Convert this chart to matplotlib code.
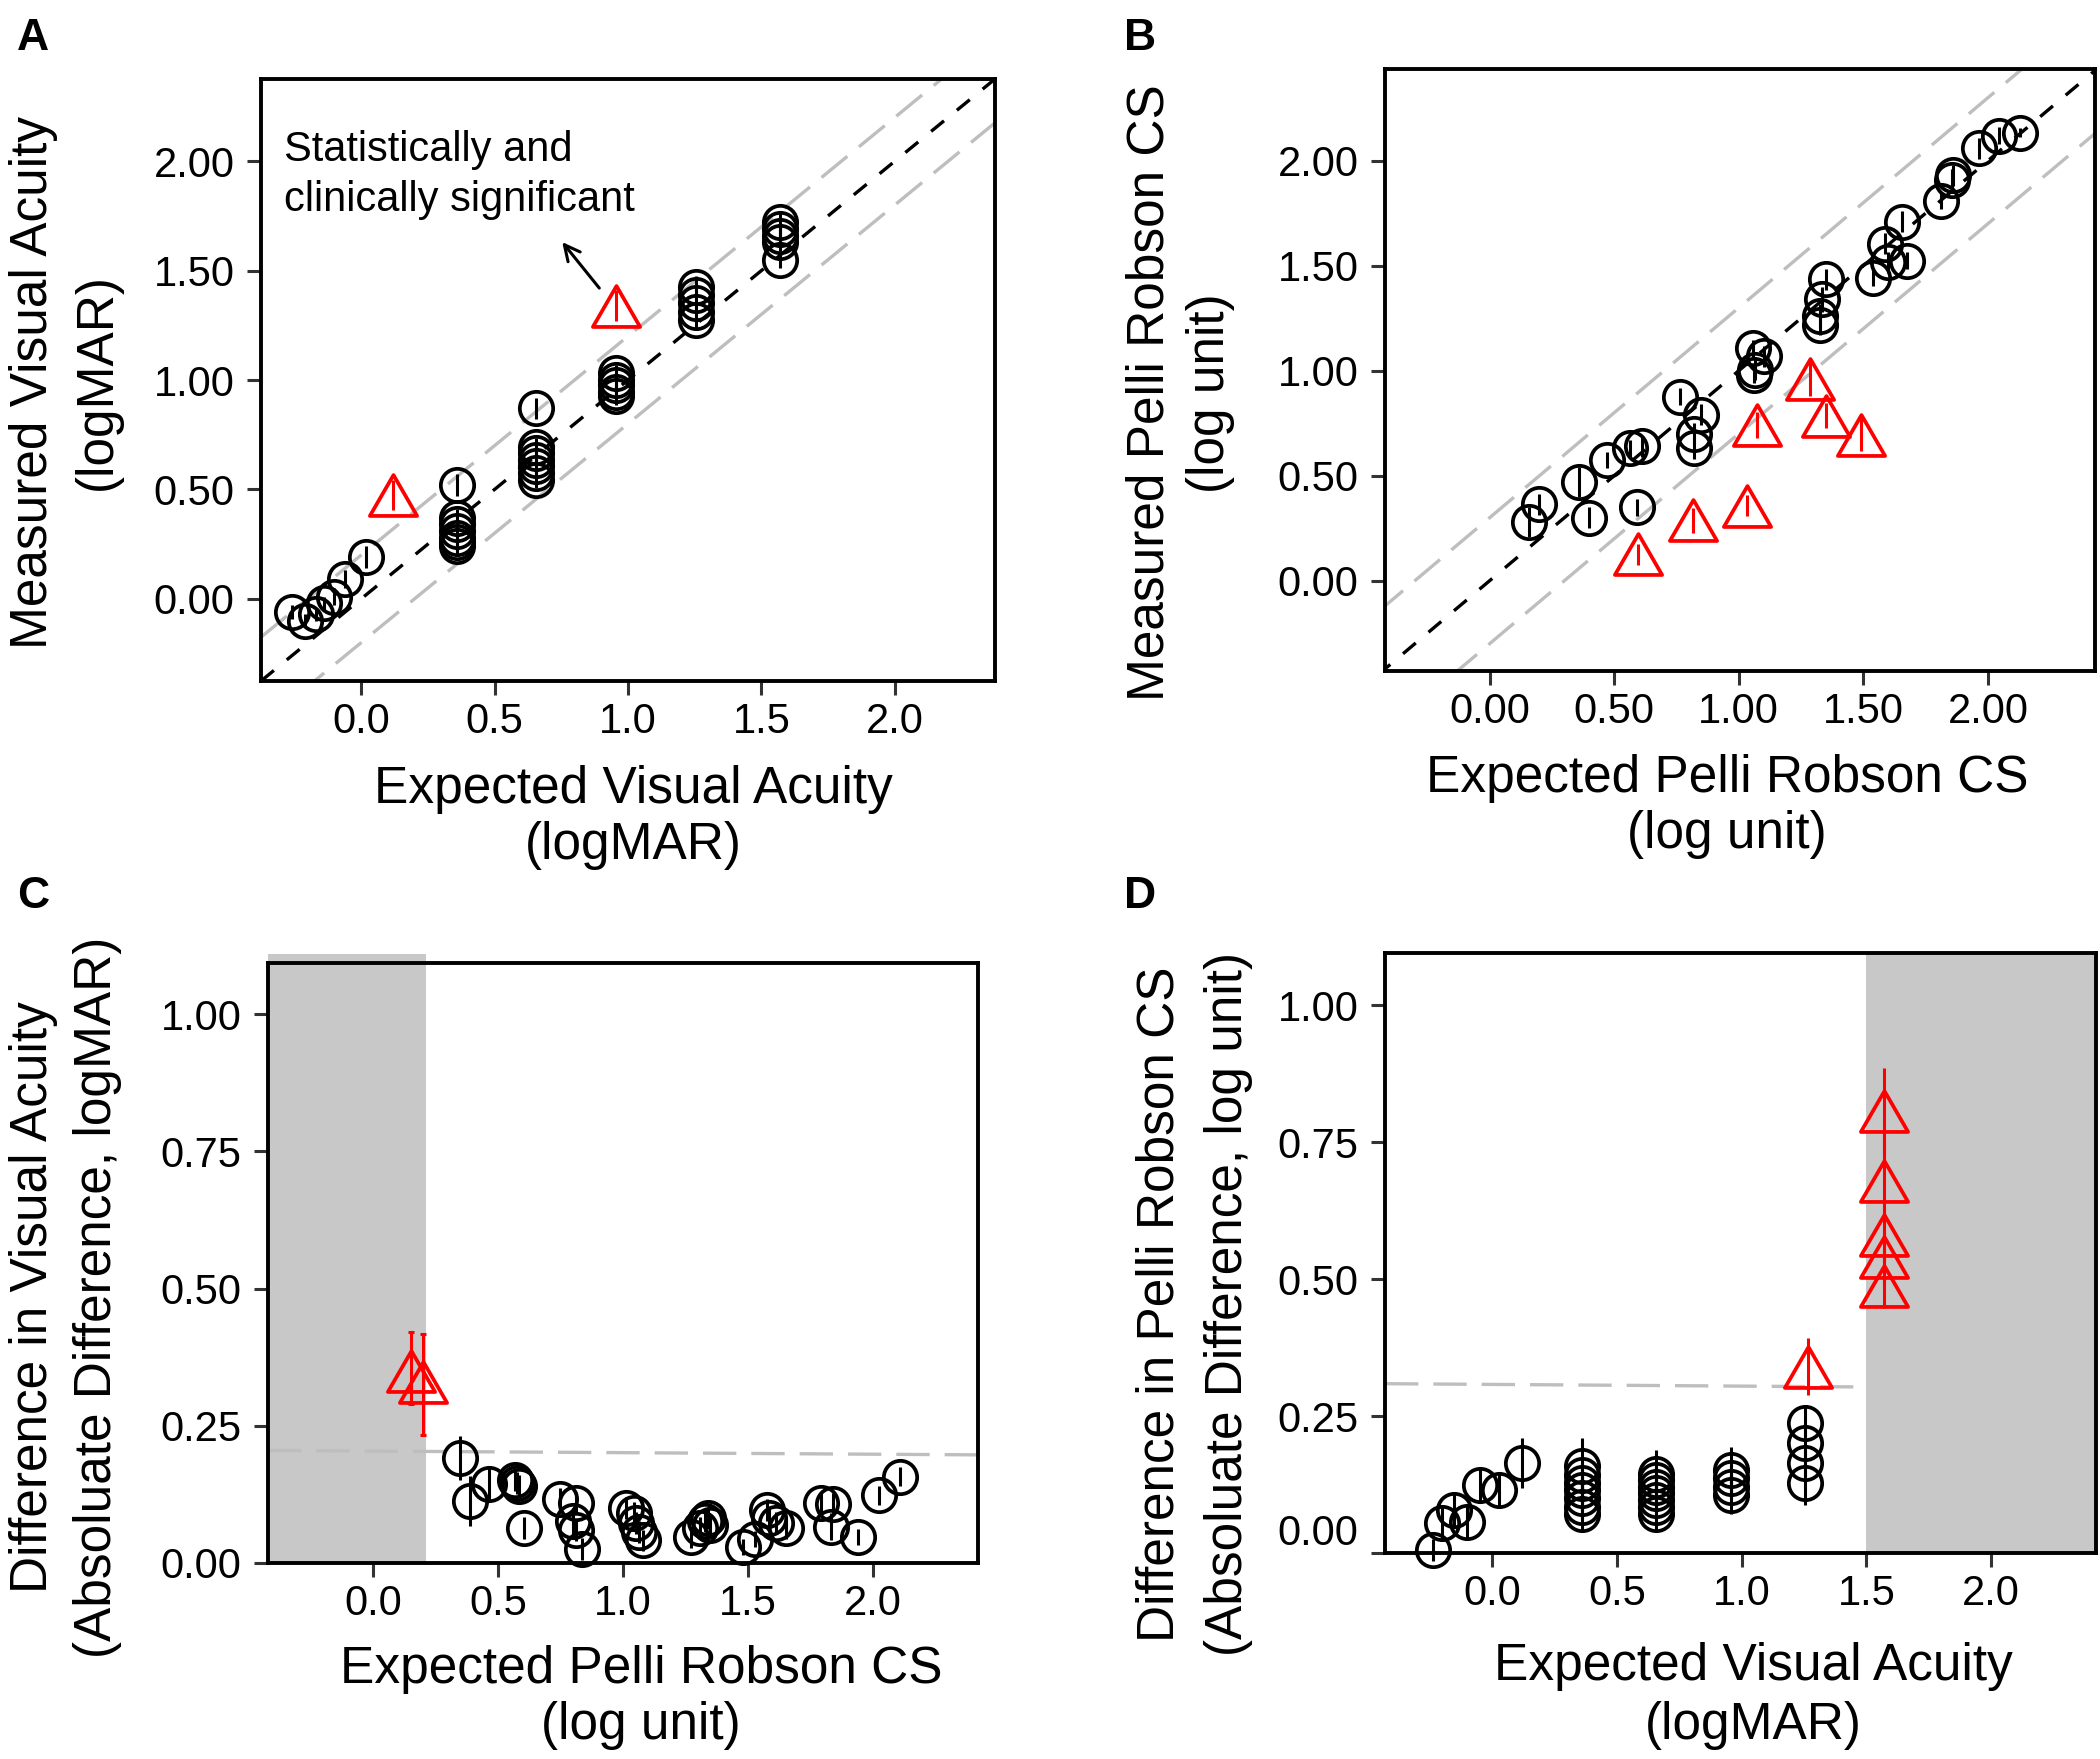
import numpy as np
import matplotlib.pyplot as plt
from matplotlib.path import Path
from matplotlib.patches import Rectangle

plt.rcParams['font.family'] = ['Liberation Sans', 'DejaVu Sans']

# ---------------- data ----------------
# A: expected vs measured visual acuity (logMAR)
a_circ_x = [-0.26, -0.21, -0.17, -0.14, -0.10, -0.06, 0.02,
            0.36, 0.36, 0.36, 0.36, 0.36, 0.36, 0.36,
            0.655, 0.655, 0.655, 0.655, 0.655, 0.655, 0.655,
            0.955, 0.955, 0.955, 0.955, 0.955,
            1.255, 1.255, 1.255, 1.255, 1.255,
            1.57, 1.57, 1.57, 1.57, 1.57]
a_circ_y = [-0.06, -0.10, -0.07, -0.02, 0.01, 0.09, 0.19,
            0.52, 0.37, 0.34, 0.31, 0.28, 0.26, 0.24,
            0.87, 0.695, 0.665, 0.635, 0.605, 0.575, 0.545,
            1.03, 1.00, 0.975, 0.945, 0.925,
            1.425, 1.39, 1.35, 1.31, 1.275,
            1.72, 1.69, 1.66, 1.63, 1.55]
a_circ_err = [0.03, 0.03, 0.03, 0.03, 0.04, 0.04, 0.05,
              0.05, 0.04, 0.04, 0.04, 0.04, 0.04, 0.04,
              0.05, 0.04, 0.04, 0.04, 0.04, 0.04, 0.04,
              0.04, 0.04, 0.04, 0.04, 0.04,
              0.05, 0.04, 0.04, 0.04, 0.04,
              0.05, 0.04, 0.04, 0.04, 0.04]
a_tri_x = [0.12, 0.955]
a_tri_y = [0.475, 1.34]
a_tri_err = [0.07, 0.07]

# B: expected vs measured Pelli Robson CS (log unit)
b_circ_x = [0.16, 0.20, 0.36, 0.40, 0.47, 0.565, 0.61, 0.59, 0.765, 0.85,
            0.82, 0.82, 1.057, 1.10, 1.067, 1.06, 1.35, 1.335, 1.325, 1.325,
            1.54, 1.60, 1.586, 1.675, 1.655, 1.81, 1.857, 1.86, 1.965, 2.045,
            2.127]
b_circ_y = [0.28, 0.365, 0.47, 0.30, 0.575, 0.63, 0.64, 0.35, 0.876, 0.79,
            0.70, 0.63, 1.107, 1.07, 1.005, 0.98, 1.435, 1.34, 1.26, 1.22,
            1.443, 1.516, 1.605, 1.524, 1.71, 1.81, 1.91, 1.93, 2.06, 2.12,
            2.134]
b_circ_err = [0.07, 0.05, 0.07, 0.05, 0.04, 0.04, 0.05, 0.04, 0.04, 0.05,
              0.05, 0.05, 0.04, 0.05, 0.05, 0.04, 0.05, 0.06, 0.06, 0.05,
              0.04, 0.05, 0.05, 0.04, 0.05, 0.04, 0.05, 0.05, 0.05, 0.04,
              0.02]
b_tri_x = [0.595, 0.816, 1.032, 1.073, 1.284, 1.349, 1.492]
b_tri_y = [0.126, 0.288, 0.357, 0.742, 0.96, 0.785, 0.696]
b_tri_err = [0.05, 0.06, 0.05, 0.06, 0.08, 0.06, 0.08]

# C: expected Pelli Robson CS vs difference in visual acuity
c_circ_x = [0.347, 0.388, 0.465, 0.568, 0.575, 0.585, 0.602, 0.747, 0.81, 0.80,
            0.81, 0.834, 1.01, 1.044, 1.05, 1.065, 1.078, 1.272, 1.306, 1.327,
            1.34, 1.347, 1.479, 1.527, 1.575, 1.582, 1.61, 1.65, 1.79, 1.838,
            1.83, 1.94, 2.024, 2.107]
c_circ_y = [0.191, 0.113, 0.144, 0.151, 0.145, 0.14, 0.063, 0.116, 0.11, 0.076,
            0.06, 0.025, 0.10, 0.091, 0.073, 0.057, 0.041, 0.047, 0.064, 0.076,
            0.082, 0.069, 0.029, 0.044, 0.097, 0.082, 0.073, 0.063, 0.11, 0.107,
            0.066, 0.047, 0.123, 0.157]
c_circ_err = [0.04, 0.045, 0.033, 0.02, 0.02, 0.02, 0.02, 0.02, 0.02, 0.025,
              0.02, 0.02, 0.02, 0.02, 0.02, 0.02, 0.02, 0.02, 0.02, 0.02,
              0.02, 0.02, 0.015, 0.015, 0.02, 0.02, 0.02, 0.02, 0.02, 0.02,
              0.025, 0.015, 0.017, 0.017]
c_tri_x = [0.153, 0.20]
c_tri_y = [0.349, 0.33]
c_tri_lo = [0.29, 0.233]
c_tri_hi = [0.42, 0.418]

# D: expected visual acuity vs difference in Pelli Robson CS
d_circ_x = [-0.238, -0.202, -0.155, -0.10, -0.048, 0.025, 0.119,
            0.36, 0.36, 0.36, 0.36, 0.36, 0.36, 0.36,
            0.655, 0.655, 0.655, 0.655, 0.655, 0.655, 0.655,
            0.955, 0.955, 0.955, 0.955,
            1.255, 1.255, 1.255, 1.255]
d_circ_y = [0.005, 0.054, 0.078, 0.057, 0.125, 0.115, 0.164,
            0.158, 0.142, 0.127, 0.115, 0.10, 0.084, 0.072,
            0.145, 0.133, 0.121, 0.109, 0.097, 0.084, 0.072,
            0.151, 0.136, 0.121, 0.106,
            0.237, 0.201, 0.164, 0.128]
d_circ_err = [0.02, 0.03, 0.03, 0.03, 0.03, 0.03, 0.045,
              0.052, 0.03, 0.03, 0.03, 0.03, 0.03, 0.03,
              0.043, 0.03, 0.03, 0.03, 0.03, 0.03, 0.03,
              0.043, 0.03, 0.03, 0.035,
              0.03, 0.03, 0.03, 0.04]
d_tri_x = [1.265, 1.57, 1.57, 1.57, 1.57, 1.57]
d_tri_y = [0.34, 0.806, 0.678, 0.581, 0.540, 0.488]
d_tri_err = [0.052, 0.08, 0.08, 0.05, 0.05, 0.04]

va_ticks = [0.0, 0.5, 1.0, 1.5, 2.0]
cs_ticks = [0.0, 0.5, 1.0, 1.5, 2.0]
meas_ticks = [0.0, 0.5, 1.0, 1.5, 2.0]
diff_ticks = [0.0, 0.25, 0.5, 0.75, 1.0]

RED = '#ff0000'
LGRAY = '#bebebe'
BAND = '#c8c8c8'
TICK_FS = 30
TITLE_FS = 37

W, H = 2100, 1759
fig = plt.figure(figsize=(W / 100, H / 100), dpi=100)


def box(l, t, r, b):
    return fig.add_axes([l / W, 1 - b / H, (r - l) / W, (b - t) / H])


def px(x, y):
    return x / W, 1 - y / H


tri_path = Path([(-1, -0.866), (1, -0.866), (0, 0.866), (-1, -0.866)], closed=True)


def points(ax, x, y, err, marker, color, ms):
    ax.errorbar(x, y, yerr=err, fmt='none', ecolor=color, elinewidth=2.2,
                capsize=0, zorder=3, clip_on=False)
    ax.plot(x, y, linestyle='none', marker=marker, ms=ms, mfc='none',
            mec=color, mew=2.7, zorder=4, clip_on=False)


def style(ax, xlim, ylim, xt, xfmt, yt, yfmt):
    ax.set_xlim(xlim)
    ax.set_ylim(ylim)
    ax.set_xticks(xt)
    ax.set_xticklabels([xfmt % v for v in xt])
    ax.set_yticks(yt)
    ax.set_yticklabels([yfmt % v for v in yt])
    for s in ax.spines.values():
        s.set_linewidth(2.8)
        s.set_zorder(2.5)
    ax.tick_params(axis='both', length=10, width=2.2, color='#333333',
                   labelsize=TICK_FS, labelcolor='black')
    ax.tick_params(axis='x', pad=5)
    ax.tick_params(axis='y', pad=9)


def xtitle(cx, y1, y2, l1, l2):
    fig.text(*px(cx, y1), l1, fontsize=TITLE_FS, ha='center', va='baseline')
    fig.text(*px(cx, y2), l2, fontsize=TITLE_FS, ha='center', va='baseline')


def ytitle(x1, x2, cy, l1, l2):
    fig.text(*px(x1, cy), l1, fontsize=TITLE_FS, ha='center', va='baseline',
             rotation=90, rotation_mode='anchor')
    fig.text(*px(x2, cy), l2, fontsize=TITLE_FS, ha='center', va='baseline',
             rotation=90, rotation_mode='anchor')


# ---------------- panel A ----------------
ax = box(261, 79, 995, 681)
lim = (-0.375, 2.375)
line = np.array(lim)
ax.plot(line, line + 0.2, color=LGRAY, lw=2.4, ls=(0, (10, 4.5)), zorder=1)
ax.plot(line, line - 0.2, color=LGRAY, lw=2.4, ls=(0, (10, 4.5)), zorder=1)
ax.plot(line, line, color='black', lw=2.4, ls=(0, (5, 5)), zorder=1)
points(ax, a_circ_x, a_circ_y, a_circ_err, 'o', 'black', 24)
points(ax, a_tri_x, a_tri_y, a_tri_err, tri_path, RED, 34)
ax.text(-0.29, 2.0, 'Statistically and', fontsize=TICK_FS, va='baseline')
ax.text(-0.29, 1.77, 'clinically significant', fontsize=TICK_FS, va='baseline')
ax.annotate('', xy=(0.747, 1.64), xytext=(0.899, 1.41),
            arrowprops=dict(arrowstyle='->', lw=2.2, color='black',
                            mutation_scale=28))
style(ax, lim, lim, va_ticks, '%.1f', meas_ticks, '%.2f')
xtitle(633, 803, 859, 'Expected Visual Acuity', '(logMAR)')
ytitle(47, 111, 382, 'Measured Visual Acuity', '(logMAR)')

# ---------------- panel B ----------------
ax = box(1385, 69, 2095, 671)
xl, yl = (-0.42, 2.43), (-0.43, 2.437)
line = np.array([-0.45, 2.45])
ax.plot(line, line + 0.3, color=LGRAY, lw=2.4, ls=(0, (10, 4.5)), zorder=1)
ax.plot(line, line - 0.3, color=LGRAY, lw=2.4, ls=(0, (10, 4.5)), zorder=1)
ax.plot(line, line, color='black', lw=2.4, ls=(0, (5, 5)), zorder=1)
points(ax, b_circ_x, b_circ_y, b_circ_err, 'o', 'black', 24)
points(ax, b_tri_x, b_tri_y, b_tri_err, tri_path, RED, 34)
style(ax, xl, yl, cs_ticks, '%.2f', meas_ticks, '%.2f')
xtitle(1727, 792, 848, 'Expected Pelli Robson CS', '(log unit)')
ytitle(1164, 1224, 393, 'Measured Pelli Robson CS', '(log unit)')

# ---------------- panel C ----------------
ax = box(268, 963, 978, 1563)
xl, yl = (-0.42, 2.42), (0.0, 1.093)
ax.add_patch(Rectangle((xl[0], 0), 0.21 - xl[0], 1.109, facecolor=BAND,
                       edgecolor='none', zorder=0, clip_on=False))
ax.plot([xl[0], xl[1]], [0.205, 0.197], color=LGRAY, lw=2.4,
        ls=(0, (10, 4.5)), zorder=1)
points(ax, c_circ_x, c_circ_y, c_circ_err, 'o', 'black', 24)
c_err = [np.array(c_tri_y) - np.array(c_tri_lo), np.array(c_tri_hi) - np.array(c_tri_y)]
ax.errorbar(c_tri_x, c_tri_y, yerr=c_err, fmt='none', ecolor=RED,
            elinewidth=2.2, capsize=2, capthick=2.2, zorder=3)
ax.plot(c_tri_x, c_tri_y, linestyle='none', marker=tri_path, ms=34,
        mfc='none', mec=RED, mew=2.7, zorder=4)
style(ax, xl, yl, cs_ticks, '%.1f', diff_ticks, '%.2f')
xtitle(641, 1683, 1739, 'Expected Pelli Robson CS', '(log unit)')
ytitle(47, 111, 1297, 'Difference in Visual Acuity',
       '(Absoluate Difference, logMAR)')

# ---------------- panel D ----------------
ax = box(1385, 953, 2096, 1553)
xl, yl = (-0.43, 2.42), (0.0, 1.095)
ax.add_patch(Rectangle((1.5, yl[0]), xl[1] - 1.5, yl[1] - yl[0],
                       facecolor=BAND, edgecolor='none', zorder=0))
ax.plot([xl[0], 1.5], [0.309, 0.303], color=LGRAY, lw=2.4,
        ls=(0, (10, 4.5)), zorder=1)
points(ax, d_circ_x, d_circ_y, d_circ_err, 'o', 'black', 24)
points(ax, d_tri_x, d_tri_y, d_tri_err, tri_path, RED, 34)
style(ax, xl, yl, va_ticks, '%.1f', diff_ticks, '%.2f')
# the 0.00 label sits a little above its tick in the original
ax.set_yticklabels([''] + ['%.2f' % v for v in diff_ticks[1:]])
ax.annotate('0.00', xy=(0, 0), xycoords=ax.get_yaxis_transform(),
            xytext=(-19, 14), textcoords='offset points', ha='right',
            va='center', fontsize=TICK_FS, annotation_clip=False)
xtitle(1753, 1680, 1739, 'Expected Visual Acuity', '(logMAR)')
ytitle(1174, 1242, 1304, 'Difference in Pelli Robson CS',
       '(Absoluate Difference, log unit)')

# panel letters
for lab, x, y in [('A', 17, 50), ('B', 1124, 50), ('C', 17, 908), ('D', 1124, 908)]:
    fig.text(*px(x, y), lab, fontsize=32, fontweight='bold', va='baseline')

fig.savefig('out.png', dpi=100)
